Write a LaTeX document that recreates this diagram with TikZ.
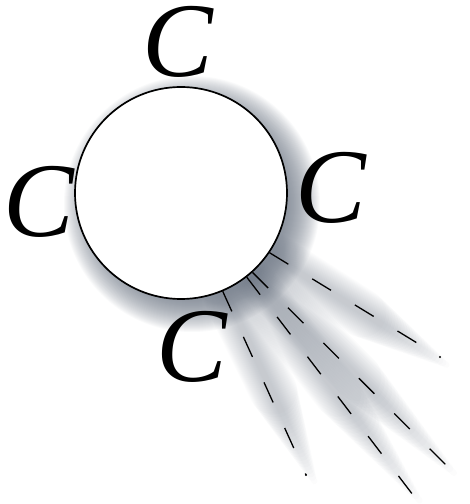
\documentclass[tikz,border=0pt]{standalone}
\usepackage{fontspec}
\setmainfont{Liberation Serif}
\usepackage{tikz}
\usetikzlibrary{calc,backgrounds}
\definecolor{ShadeGray}{RGB}{95,105,120}

\tikzset{
	letter/.style={inner sep=0pt, font=\fontsize{106}{106}\selectfont\itshape},
	ray/.style={line width=1.3pt, dash pattern=on 22pt off 28pt},
	rayshade/.style={ShadeGray, opacity=0.018, line cap=round},
}

\begin{document}
\begin{tikzpicture}[x=1pt, y=1pt]
		\pgfmathsetmacro{\r}{106}
		
		\useasboundingbox (0,0) rectangle (470,504);
		\clip (0,0) rectangle (470,504);
		
		\node[circle, draw, line width=1.7pt, fill=white, minimum size=212pt, inner sep=0pt] (ring) at (181,311) {};
		
		\coordinate (endA) at (440,147);
		\coordinate (endB) at (448,37);
		\coordinate (endC) at (413,9);
		\coordinate (endD) at (306,29);
		
		% 阴影放在背景层
		\begin{scope}[on background layer]
			\foreach \k in {0,...,32}
				\fill[ShadeGray, opacity=0.035] ($(ring.center)+(11,-11)$) circle ({\r-10+\k});
			\foreach \a/\e in {-34/endA, -48/endB, -52/endC, -67/endD} {
				\foreach \w in {6,8,...,48}
					\draw[rayshade, line width=\w pt] ($(ring.\a)+(4,-4)$) -- ($(ring.\a)!{1.05-\w/85}!(\e)+(10,-10)$);
			}
		\end{scope}
		
		% 虚线
		\foreach \a/\e in {-34/endA, -48/endB, -52/endC, -67/endD}
			\draw[ray] (ring.\a) -- (\e);
		\fill (endA) circle (1.2pt);
		\fill (endD) circle (1.2pt);
		
		\node[letter] (ctop) at (178,462) {C};
		\node[letter] (cleft) at (39,302) {C};
		\node[letter] (cright) at (331,316) {C};
		\node[letter] (cbot) at (192,157) {C};
	\end{tikzpicture}
\end{document}
